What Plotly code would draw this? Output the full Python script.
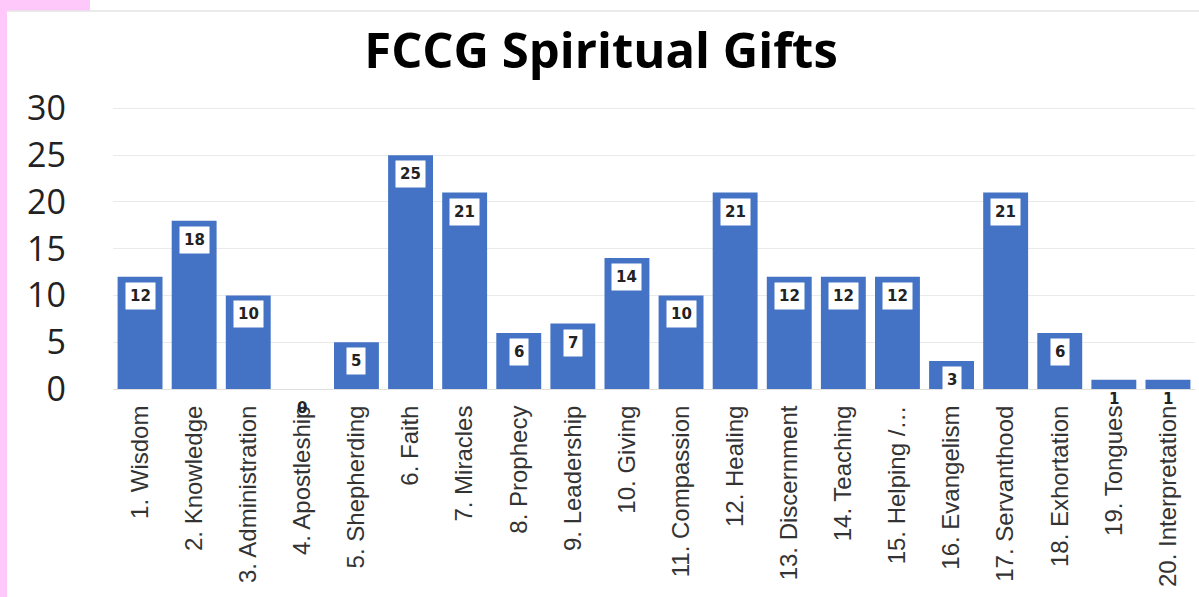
import plotly.graph_objects as go

categories = ["1. Wisdom", "2. Knowledge", "3. Administration", "4. Apostleship",
              "5. Shepherding", "6. Faith", "7. Miracles", "8. Prophecy",
              "9. Leadership", "10. Giving", "11. Compassion", "12. Healing",
              "13. Discernment", "14. Teaching", "15. Helping /…", "16. Evangelism",
              "17. Servanthood", "18. Exhortation", "19. Tongues", "20. Interpretation"]
values = [12, 18, 10, 0, 5, 25, 21, 6, 7, 14, 10, 21, 12, 12, 12, 3, 21, 6, 1, 1]
y_ticks = [0, 5, 10, 15, 20, 25, 30]

W, H = 1199, 597
L, R, T, B = 113, 4, 107, 208
pw, ph = W - L - R, H - T - B

def px(x):
    return (x - L) / pw

def py(y):
    return (H - B - y) / ph

fig = go.Figure()
fig.add_trace(go.Bar(
    x=categories, y=values,
    marker=dict(color="#4472C4", line=dict(width=0)),
    hoverinfo="x+y",
))

for c, v in zip(categories, values):
    fig.add_annotation(
        x=c, y=v, xref="x", yref="y", text=str(v), showarrow=False,
        yanchor="top", yshift=-5,
        font=dict(family="DejaVu Sans", size=15, color="#222222", weight="bold"),
        bgcolor="white" if v >= 3 else "rgba(255,255,255,0)", borderpad=4,
    )

shapes = [
    dict(type="rect", xref="paper", yref="paper", x0=px(0), x1=px(7), y0=py(597), y1=py(0),
         fillcolor="#FFC8FA", line=dict(width=0), layer="below"),
    dict(type="rect", xref="paper", yref="paper", x0=px(0), x1=px(90), y0=py(11), y1=py(0),
         fillcolor="#FFC8FA", line=dict(width=0), layer="below"),
    dict(type="line", xref="paper", yref="paper", x0=px(7), x1=px(1199), y0=py(11), y1=py(11),
         line=dict(color="#e4e4e4", width=1.5)),
]

fig.update_layout(
    width=W, height=H,
    margin=dict(l=L, r=R, t=T, b=B),
    paper_bgcolor="white", plot_bgcolor="white",
    title=dict(text="<b>FCCG Spiritual Gifts</b>", x=(601) / W, xanchor="center",
               y=1 - 51 / H, yanchor="middle",
               font=dict(family="Open Sans", size=49, color="#000000")),
    bargap=0.17,
    showlegend=False,
    shapes=shapes,
    xaxis=dict(tickangle=-90, tickfont=dict(family="Liberation Sans", size=24, color="#333333"),
               showline=True, linecolor="#e0e0e0", ticks="", ticklabelstandoff=6),
    yaxis=dict(range=[0, 30.15], tickvals=y_ticks, showgrid=True, gridcolor="#eaeaea",
               zeroline=False, ticks="", ticklabelstandoff=46,
               tickfont=dict(family="Open Sans", size=34, color="#222222")),
)

fig.write_html("out.html", config={"displayModeBar": False},
               post_script="document.body.style.margin='0px';")
